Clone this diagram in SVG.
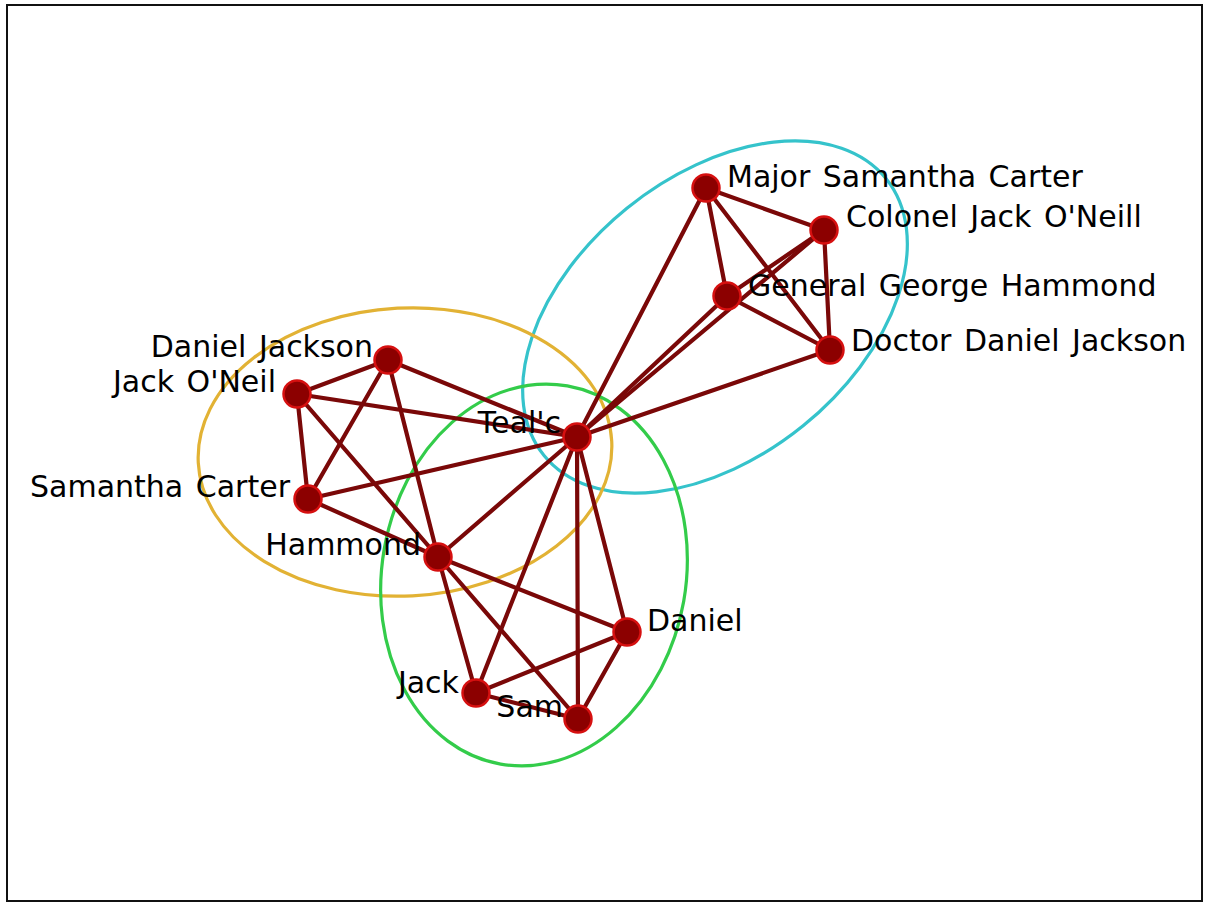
<svg xmlns="http://www.w3.org/2000/svg" width="1205" height="903" viewBox="0 0 1205 903">
<style>
.e{stroke:#7a0808;stroke-width:4.2;stroke-linecap:round}
.n{fill:#8c0000;stroke:#d61010;stroke-width:2.5}
.g{fill:none;stroke-width:3.2}
text{font-family:"DejaVu Sans","Verdana",sans-serif;font-size:30px;fill:#000;word-spacing:3px}
</style>
<rect x="7" y="5" width="1195" height="896" fill="#fff" stroke="#111" stroke-width="2"/>
<g id="groups">
<ellipse class="g" cx="715" cy="317" rx="220" ry="140" transform="rotate(-39 715 317)" stroke="#35c3cb"/>
<ellipse class="g" cx="405" cy="452" rx="207" ry="144" transform="rotate(-3 405 452)" stroke="#e2b234"/>
<ellipse class="g" cx="534" cy="575" rx="152" ry="192" transform="rotate(10 534 575)" stroke="#33cc4a"/>
</g>
<g id="edges">
<line class="e" x1="706" y1="188" x2="824" y2="230"/>
<line class="e" x1="706" y1="188" x2="727" y2="296"/>
<line class="e" x1="706" y1="188" x2="830" y2="350"/>
<line class="e" x1="706" y1="188" x2="577" y2="437"/>
<line class="e" x1="824" y1="230" x2="727" y2="296"/>
<line class="e" x1="824" y1="230" x2="830" y2="350"/>
<line class="e" x1="824" y1="230" x2="577" y2="437"/>
<line class="e" x1="727" y1="296" x2="830" y2="350"/>
<line class="e" x1="727" y1="296" x2="577" y2="437"/>
<line class="e" x1="830" y1="350" x2="577" y2="437"/>
<line class="e" x1="388" y1="360" x2="297" y2="394"/>
<line class="e" x1="388" y1="360" x2="308" y2="499"/>
<line class="e" x1="388" y1="360" x2="438" y2="557"/>
<line class="e" x1="388" y1="360" x2="577" y2="437"/>
<line class="e" x1="297" y1="394" x2="308" y2="499"/>
<line class="e" x1="297" y1="394" x2="438" y2="557"/>
<line class="e" x1="297" y1="394" x2="577" y2="437"/>
<line class="e" x1="308" y1="499" x2="438" y2="557"/>
<line class="e" x1="308" y1="499" x2="577" y2="437"/>
<line class="e" x1="438" y1="557" x2="577" y2="437"/>
<line class="e" x1="438" y1="557" x2="476" y2="693"/>
<line class="e" x1="438" y1="557" x2="578" y2="719"/>
<line class="e" x1="438" y1="557" x2="627" y2="632"/>
<line class="e" x1="577" y1="437" x2="476" y2="693"/>
<line class="e" x1="577" y1="437" x2="578" y2="719"/>
<line class="e" x1="577" y1="437" x2="627" y2="632"/>
<line class="e" x1="476" y1="693" x2="627" y2="632"/>
<line class="e" x1="476" y1="693" x2="578" y2="719"/>
<line class="e" x1="627" y1="632" x2="578" y2="719"/>
</g>
<g id="n-major"><circle class="n" cx="706" cy="188" r="13.5"/><text x="727" y="187">Major Samantha Carter</text></g>
<g id="n-colonel"><circle class="n" cx="824" cy="230" r="13.5"/><text x="846" y="227">Colonel Jack O'Neill</text></g>
<g id="n-general"><circle class="n" cx="727" cy="296" r="13.5"/><text x="748" y="296">General George Hammond</text></g>
<g id="n-doctor"><circle class="n" cx="830" cy="350" r="13.5"/><text x="851" y="351">Doctor Daniel Jackson</text></g>
<g id="n-tealc"><circle class="n" cx="577" cy="437" r="13.5"/><text x="561" y="433" text-anchor="end">Teal'c</text></g>
<g id="n-danieljackson"><circle class="n" cx="388" cy="360" r="13.5"/><text x="373" y="357" text-anchor="end">Daniel Jackson</text></g>
<g id="n-jackoneil"><circle class="n" cx="297" cy="394" r="13.5"/><text x="276" y="392" text-anchor="end">Jack O'Neil</text></g>
<g id="n-samanthacarter"><circle class="n" cx="308" cy="499" r="13.5"/><text x="290" y="497" text-anchor="end">Samantha Carter</text></g>
<g id="n-hammond"><circle class="n" cx="438" cy="557" r="13.5"/><text x="421" y="555" text-anchor="end">Hammond</text></g>
<g id="n-daniel"><circle class="n" cx="627" cy="632" r="13.5"/><text x="647" y="631">Daniel</text></g>
<g id="n-jack"><circle class="n" cx="476" cy="693" r="13.5"/><text x="459" y="693" text-anchor="end">Jack</text></g>
<g id="n-sam"><circle class="n" cx="578" cy="719" r="13.5"/><text x="563" y="717" text-anchor="end">Sam</text></g>
</svg>
